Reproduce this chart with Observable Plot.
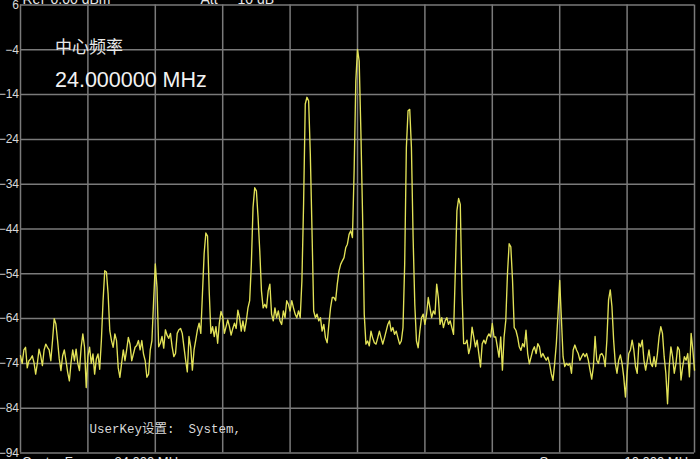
<!DOCTYPE html>
<html><head><meta charset="utf-8">
<script src="https://cdn.jsdelivr.net/npm/d3@7"></script>
<script src="https://cdn.jsdelivr.net/npm/@observablehq/plot@0.6"></script>
<style>
html,body{margin:0;padding:0;background:#000;overflow:hidden;}
#chart svg{display:block;overflow:hidden;}
</style>
</head><body><div id="chart"></div>
<script>
// Sweep: center 24 MHz, span 10 MHz
const startMHz = 19;
const stopMHz = 29;
// Trace levels (dBm), one per sweep point
const levelDbm = [
-72.3,-74,-71,-70.4,-75,-73.4,-73,-72.3,-73.8,-76.4,
-74,-70.8,-72.3,-74.5,-71,-69.7,-70.4,-71,-73.4,-68.9,
-64,-65.2,-68.9,-73,-75.6,-72.3,-71,-73.4,-76,-77.9,
-73.8,-71,-73.4,-70.8,-74,-75.6,-70.4,-67.4,-70.4,-79.4,
-72.3,-70.4,-74,-71.9,-76.4,-73,-71.9,-75.3,-68.9,-60,
-53.3,-53.6,-58.5,-66.7,-68.9,-70.4,-67.4,-68.9,-75,-77.1,
-74,-71,-73.4,-71,-68.2,-69.7,-73.4,-71.9,-70.4,-70,
-68.9,-71,-68.9,-71.9,-73.4,-77.1,-76.4,-71,-68.9,-60,
-51.8,-57,-70.3,-69.5,-68,-70.6,-66.5,-67.7,-68.4,-67.3,
-70.3,-72.5,-71.8,-67.3,-66.5,-66.2,-67.3,-70.3,-73.3,-75.9,
-68,-70.3,-75.5,-71,-68.8,-66.5,-65,-67.3,-58.3,-49.4,
-44.9,-45.6,-58,-67.3,-65.8,-68,-65.8,-69.5,-65,-62.4,
-63.6,-67.3,-65.8,-64.3,-65.8,-67.7,-66.2,-65,-66.2,-62.1,
-63.8,-66.8,-64.5,-66.8,-64.5,-61.6,-60,-51.9,-39.2,-34.8,
-35.5,-41.5,-48.9,-57.8,-61.6,-60.8,-61.6,-57.8,-56.3,-63,
-64.5,-61.6,-63.8,-62.3,-64.5,-65.3,-62.3,-63.8,-60,-60.8,
-62.3,-60,-61.6,-63,-63.8,-62.3,-63.8,-55.6,-38.5,-16.1,
-14.6,-15.4,-27.3,-44.4,-62.3,-63.8,-63,-64.5,-63.8,-66.8,
-65.3,-68.3,-69.4,-65.3,-61.6,-59.3,-59.3,-60,-56.3,-53.4,
-51.9,-51.1,-50.4,-48.2,-47.4,-45.2,-44.4,-45.9,-31,-10.9,
-3.9,-6.5,-22.1,-40.7,-63,-69.7,-69,-70.1,-66.8,-68.3,
-69.4,-69.7,-68.3,-66.8,-68.3,-69.7,-68.3,-66.8,-65.3,-64.5,
-66.8,-66,-67.5,-66.8,-68.3,-69.7,-69,-66,-51.9,-25.8,
-17.6,-17.3,-25.8,-45.9,-60.8,-69,-70.5,-66.8,-63.8,-63,
-65.3,-63,-59.3,-61.6,-63.8,-62.3,-63,-56.3,-59.3,-65.3,
-63.8,-66,-64.5,-63.8,-65.3,-64.5,-66,-67.5,-54.1,-39.9,
-37.2,-38.5,-58,-69.6,-69.6,-68.8,-71.8,-70.3,-65.9,-68.1,
-70.3,-68.8,-71.8,-74.8,-69.6,-68.8,-69.6,-68.1,-67.4,-68.1,
-65.1,-68.1,-68.1,-70.3,-72.6,-68.1,-75.5,-68.1,-64.4,-54,
-47.3,-48,-55.4,-66,-66.6,-68.1,-70.3,-71.1,-69.6,-70.3,
-66.6,-71.8,-74.1,-72.6,-71.1,-70.3,-71.8,-69.6,-70.3,-72.6,
-71.8,-72.6,-73.3,-72.6,-74.1,-76.3,-77.8,-74.1,-69.6,-62.9,
-55.5,-64,-72.5,-74.7,-74,-74.4,-74,-76.2,-71,-69.9,
-71,-71.8,-73.3,-72.5,-71.8,-72.5,-71.8,-73.3,-75.5,-77.5,
-74.7,-68,-73.3,-74,-72.1,-71.8,-72.5,-74.7,-68.8,-59.8,
-57.6,-61.3,-68.8,-74,-76.2,-73.3,-72.1,-74,-77,-81.5,
-76.2,-71.8,-71,-68.8,-71,-74.7,-76.2,-69.5,-70.3,-68.8,
-73.3,-75.5,-73.3,-71,-74,-74.7,-72.5,-74.7,-71.8,-68,
-65.8,-67.3,-72.5,-76.2,-83,-74.7,-70.3,-72.5,-76.2,-74,
-70.3,-71,-77.7,-74.7,-72.5,-73.3,-71.8,-77,-67.3,-71,
-75.5
];
const freqGridMHz = [19,20,21,22,23,24,25,26,27,28,29];
const levelTicks = [6,-4,-14,-24,-34,-44,-54,-64,-74,-84,-94];
const centerTitle = "中心频率";
const centerValue = "24.000000 MHz";
const userKeyLabel = "UserKey设置:";
const userKeyValue = "System,";
const refLabel = "Ref";
const refValue = "0.00 dBm";
const attLabel = "Att";
const attValue = "10 dB";
const footCenterLabel = "Center Freq";
const footCenterValue = "24.000 MHz";
const footSpanLabel = "Span";
const footSpanValue = "10.000 MHz";

const stepMHz = (stopMHz - startMHz) / (levelDbm.length - 1);
const trace = levelDbm.map((v, i) => ({f: startMHz + i * stepMHz, dBm: v}));

const gridColor = "#7a7a7a";
const sans = "'Liberation Sans', Arial, sans-serif";
const txt = (s, o) => Plot.text([s], {text: d => d, textAnchor: "start", lineAnchor: "bottom", ...o});

const chart = Plot.plot({
  width: 700, height: 459,
  marginLeft: 20, marginRight: 6, marginTop: 4.5, marginBottom: 6.5,
  style: {background: "#000", color: "#d8d8d8", fontFamily: sans, overflow: "hidden"},
  x: {domain: [startMHz, stopMHz], axis: null},
  y: {domain: [-94, 6], axis: null},
  marks: [
    Plot.ruleX(freqGridMHz, {stroke: gridColor, strokeWidth: 1.5}),
    Plot.ruleY(levelTicks, {stroke: gridColor, strokeWidth: 1.5}),
    Plot.axisY(levelTicks, {tickSize: 0, tickPadding: 1.5, fontSize: 12, color: "#d8d8d8", label: null}),
    Plot.line(trace, {x: "f", y: "dBm", stroke: "#e2e257", strokeWidth: 1.35}),
    txt(centerTitle, {frameAnchor: "top-left", dx: 34.5, dy: 48, fontSize: 17, fill: "#e8e8e8", fontFamily: "'Noto Sans CJK SC', sans-serif"}),
    txt(centerValue, {frameAnchor: "top-left", dx: 34.5, dy: 81.5, fontSize: 21.5, fill: "#f2f2f2", fontFamily: sans}),
    txt(userKeyLabel, {frameAnchor: "bottom-left", dx: 69, dy: -20.5, fontSize: 12.5, fill: "#d8d8d8", fontFamily: "'Liberation Mono', 'Noto Sans CJK SC', monospace"}),
    txt(userKeyValue, {frameAnchor: "bottom-left", dx: 168, dy: -20.5, fontSize: 12.5, fill: "#d8d8d8", fontFamily: "'Liberation Mono', monospace"}),
    txt(refLabel, {frameAnchor: "top-left", dx: 2, dy: -1.2, fontSize: 14, fill: "#e8e8e8", fontFamily: sans}),
    txt(refValue, {frameAnchor: "top-left", dx: 30, dy: -1.2, fontSize: 14, fill: "#e8e8e8", fontFamily: sans}),
    txt(attLabel, {frameAnchor: "top-left", dx: 180, dy: -1.2, fontSize: 14, fill: "#e8e8e8", fontFamily: sans}),
    txt(attValue, {frameAnchor: "top-left", dx: 217, dy: -1.2, fontSize: 14, fill: "#e8e8e8", fontFamily: sans}),
    txt(footCenterLabel, {frameAnchor: "bottom-left", dx: 1.5, dy: 12.5, fontSize: 13, fill: "#e8e8e8", fontFamily: sans}),
    txt(footCenterValue, {frameAnchor: "bottom-left", dx: 94, dy: 12.5, fontSize: 13, fill: "#e8e8e8", fontFamily: sans}),
    txt(footSpanLabel, {frameAnchor: "bottom-left", dx: 519, dy: 12.5, fontSize: 13, fill: "#e8e8e8", fontFamily: sans}),
    txt(footSpanValue, {frameAnchor: "bottom-left", dx: 604, dy: 12.5, fontSize: 13, fill: "#e8e8e8", fontFamily: sans})
  ]
});
document.getElementById("chart").append(chart);
</script>
</body></html>
